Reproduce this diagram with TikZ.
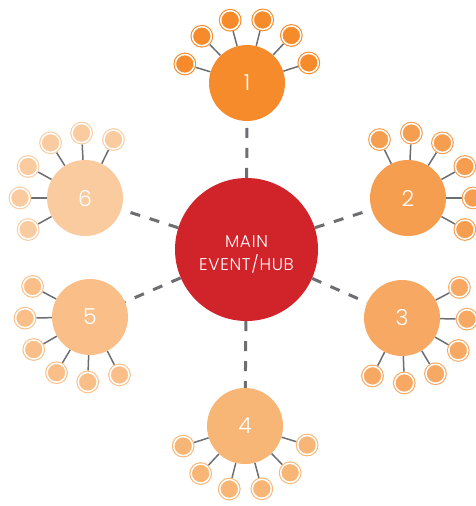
\documentclass[tikz,border=0pt]{standalone}
\usepackage{fontspec}
\setmainfont{Poppins}
\newfontfamily\lightfont{Poppins Light}
\usetikzlibrary{calc}
\pgfdeclarelayer{edgelayer}
\pgfsetlayers{edgelayer,main}
\definecolor{hubred}{HTML}{D1232A}
\definecolor{evone}{HTML}{F58B2B}
\definecolor{evtwo}{HTML}{F69E4F}
\definecolor{evthree}{HTML}{F7A862}
\definecolor{evfour}{HTML}{F8B676}
\definecolor{evfive}{HTML}{FABF88}
\definecolor{evsix}{HTML}{FBCBA0}
\definecolor{linegray}{HTML}{6D6E71}
\tikzset{
  hubnode/.style={circle, fill=hubred, minimum size=143pt, inner sep=0pt},
  hubtext/.style={text=white, align=center,
    font=\lightfont\fontsize{17}{23}\selectfont\addfontfeatures{LetterSpace=4}},
  eventnode/.style={circle, fill=#1, minimum size=76pt, inner sep=0pt,
    text=white, font=\lightfont\fontsize{22}{22}\selectfont},
  satnode/.style={circle, fill=#1, draw=#1, double=white, double distance=1.5pt,
    line width=1.1pt, minimum size=19pt, inner sep=0pt, outer sep=1.85pt},
  hublink/.style={draw=linegray, line width=3pt, dash pattern=on 10pt off 10pt},
  satlink/.style={draw=linegray, line width=1.5pt}
}

\begin{document}
\begin{tikzpicture}[x=1pt, y=-1pt]
\useasboundingbox (0,0) rectangle (475,506);

\node[hubnode] (hub) at (246.5,249.5) {};
\node[hubtext] (hubtext) at ([yshift=-5pt]hub.center) {MAIN\\EVENT/HUB};

% events around the hub, six small satellites each
\foreach \n/\x/\y/\c/\a in {1/247/83/evone/18, 2/408/198/evtwo/-29,
    3/402/318/evthree/-117, 4/245/426/evfour/-162,
    5/90/317/evfive/152, 6/85/198/evsix/64}{
  \node[eventnode=\c] (ev\n) at (\x,\y) {\n};
  \begin{pgfonlayer}{edgelayer}
    \draw[hublink] (hub) -- (ev\n);
  \end{pgfonlayer}
  \foreach \k in {0,...,5}{
    \node[satnode=\c] (sat\n\k) at ($(ev\n)+(\a+29*\k:65pt)$) {};
    \begin{pgfonlayer}{edgelayer}
      \draw[satlink] (ev\n) -- (sat\n\k);
    \end{pgfonlayer}
  }
}
\end{tikzpicture}
\end{document}
